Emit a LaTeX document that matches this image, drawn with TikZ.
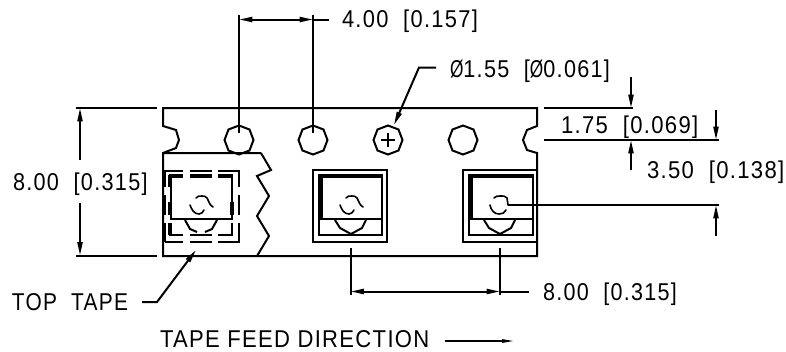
\documentclass[tikz,border=0pt]{standalone}
\usepackage{graphicx}
\usepackage{fontspec}
\setmainfont[LetterSpace=6]{Liberation Sans}
\usetikzlibrary{arrows.meta}
\newcommand\fit[2]{\resizebox{#1pt}{1.14\height}{#2}}
\newcommand\dia{\resizebox{0.62em}{\height}{Ø}}
\tikzset{
  px/.style={x=0.75pt,y=-0.75pt},
  ln/.style={line width=1.5pt,line cap=butt,line join=miter,black},
  thinln/.style={line width=1.2pt,black,line cap=round},
  heavy/.style={line width=3pt,black},
  dimarrows/.style={ln,{Triangle[length=10pt,width=3.8pt]}-{Triangle[length=10pt,width=3.8pt]}},
  endarrow/.style={ln,-{Triangle[length=10pt,width=3.8pt]}},
  feedarrow/.style={line width=1.1pt,black,-{Triangle[length=9pt,width=2.6pt]}},
  lbl/.style={inner sep=0pt,outer sep=0pt,font=\fontsize{16pt}{17pt}\selectfont,anchor=base west}
}
\newcommand\hole[2]{\draw[ln] (#1+14.5,#2)--(#1+10.5,#2-10.5)--(#1,#2-14.5)--(#1-10.5,#2-10.5)--(#1-14.5,#2)--(#1-10.5,#2+10.5)--(#1,#2+14.5)--(#1+10.5,#2+10.5)--cycle;}
\newcommand\bump[1]{\draw[ln] (#1-16,220)--(#1-11,228)--(#1,234)--(#1+11,228)--(#1+15,220);}
\newcommand\sym[1]{\draw[thinln] (#1-11,205) to[out=-70,in=180] (#1-2,214) to[out=0,in=-120] (#1+3,210);
 \draw[thinln] (#1-5,198) to[out=60,in=180] (#1+1,196) to[out=0,in=120] (#1+6,198) to[out=-60,in=150] (#1+12,207);}
\begin{document}
\begin{tikzpicture}[px]
\useasboundingbox (0,0) rectangle (786,351);
% tape outline
\draw[ln] (261,153)--(163,153)--(163,256)--(537,256)--(537,153)--(527,150)--(523,140)--(527,130)--(537,126)--(537,108)--(163,108)--(163,126)--(176,130)--(179,140)--(176,148)--(163,153);
\draw[ln] (261,153)--(271,170)--(257,176)--(269,196)--(257,216)--(269,236)--(257,256);
% holes
\hole{239}{140}\hole{313}{140}\hole{388}{140}\hole{463}{140}
\draw[ln] (381,140)--(395,140) (388,133)--(388,147);
% pocket 2
\draw[ln] (313,170) rectangle (387,242);
\draw[ln] (319,175) rectangle (382,235);
\draw[ln] (319,219)--(382,219);
\draw[heavy] (319,176)--(382,176) (321,175)--(321,219);
\bump{351}\sym{351}
% pocket 3
\draw[ln] (537,170)--(463,170)--(463,242)--(537,242);
\draw[ln] (469,175) rectangle (533,235);
\draw[ln] (469,219)--(533,219);
\draw[heavy] (469,176)--(533,176) (471,175)--(471,219);
\bump{500}
\draw[thinln] (490,205) to[out=-80,in=180] (499,214) to[out=0,in=-110] (506,210);
\draw[thinln] (494,198) to[out=50,in=180] (500,196) to[out=0,in=120] (507,198)--(508,205);
% pocket 1 under dashed top tape
\foreach \a/\b in {165/183,190/212,218/240}{
  \draw[ln] (\a,170.5)--(\b,170.5) (\a,242)--(\b,242);
}
\foreach \a/\b in {169/183,190/212,218/233}{
  \draw[heavy] (\a,176)--(\b,176);
  \draw[ln] (\a,235)--(\b,235);
}
\foreach \a/\b in {170/187,195/215,223/242}{
  \draw[ln] (165,\a)--(165,\b) (239,\a)--(239,\b);
}
\foreach \a/\b in {175/187,202/215,223/235}{
  \draw[heavy] (170,\a)--(170,\b);
  \draw[ln] (232,\a)--(232,\b);
}
\draw[ln] (171,175)--(171,219)--(232,219)--(232,175);
\draw[heavy] (232,202)--(232,215);
\draw[ln] (185,220)--(190,229)--(197,232);
\draw[ln] (205,232)--(212,229)--(217,220);
\sym{201}
% dimension 4.00
\coordinate (d1) at (239,19.5); \coordinate (d2) at (313,19.5); \coordinate (d2e) at (329,19.5);
\draw[ln] (239,15)--(239,133) (313,15)--(313,133);
\draw[dimarrows] (d1)--(d2);
\draw[ln] (d2)--(d2e);
\node[lbl] (t400) at (342,27) {\fit{102}{4.00~~[0.157]}};
% diameter leader
\coordinate (ld0) at (436,67.5); \coordinate (ld1) at (419,67.5); \coordinate (ld2) at (394,125);
\draw[endarrow] (ld0)--(ld1)--(ld2);
\node[lbl] (tdia) at (450,77) {\fit{120}{\dia1.55~~[\dia0.061]}};
% right dimensions
\draw[ln] (544,108)--(633,108) (544,140)--(719,140) (508,205)--(719,205);
\draw[endarrow] (631,77)--(631,108);
\draw[endarrow] (631,170)--(631,140);
\draw[endarrow] (716,110)--(716,140);
\draw[endarrow] (716,236)--(716,205);
\node[lbl] (t175) at (561,133) {\fit{103}{1.75~~[0.069]}};
\node[lbl] (t350) at (647,178) {\fit{103}{3.50~~[0.138]}};
% left dimension
\draw[ln] (76,108)--(157,108) (76,255.5)--(157,255.5);
\draw[endarrow] (80,160)--(80,108);
\draw[endarrow] (80,203)--(80,255.5);
\node[lbl] (t800l) at (13,190) {\fit{101}{8.00~~[0.315]}};
% top tape
\node[lbl] (ttop) at (12,310) {\fit{87}{TOP~~TAPE}};
\coordinate (tt0) at (142,302); \coordinate (tt1) at (157,302); \coordinate (tt2) at (196,250);
\draw[endarrow] (tt0)--(tt1)--(tt2);
% bottom dimension
\coordinate (b1) at (350.5,291.5); \coordinate (b2) at (500,291.5); \coordinate (b3) at (528.5,291.5);
\draw[ln] (350.5,247.5)--(350.5,295) (500,247.5)--(500,295);
\draw[dimarrows] (b1)--(b2);
\draw[ln] (b2)--(b3);
\node[lbl] (t800b) at (543,300.5) {\fit{100.5}{8.00~~[0.315]}};
% feed direction
\node[lbl] (tfeed) at (160,347) {\fit{202}{TAPE~FEED~DIRECTION}};
\coordinate (f0) at (445,341); \coordinate (f1) at (514,341);
\draw[feedarrow] (f0)--(f1);
\end{tikzpicture}
\end{document}
